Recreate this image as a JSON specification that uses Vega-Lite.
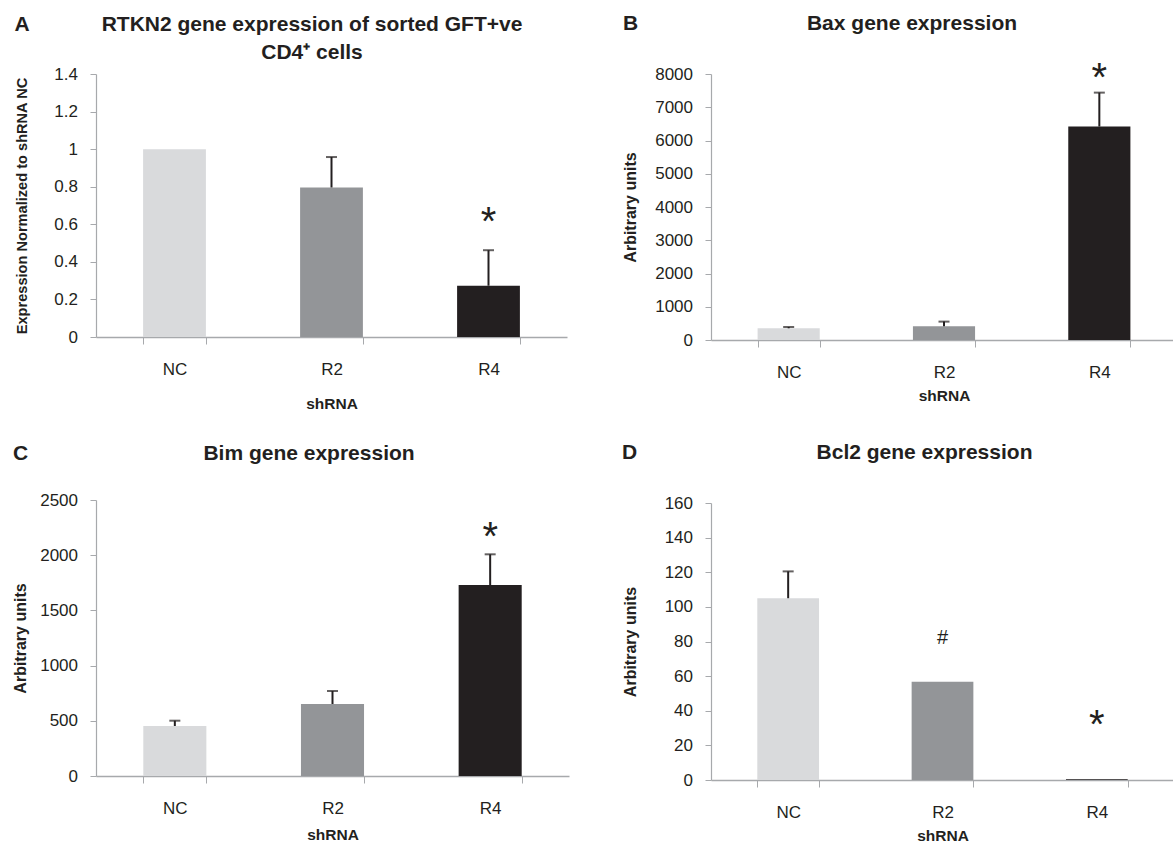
{
  "$schema": "https://vega.github.io/schema/vega-lite/v6.json",
  "background": "white",
  "padding": {"left": 12, "top": 12, "right": 0, "bottom": 0},
  "config": {
    "view": {"stroke": null},
    "font": "Liberation Sans",
    "axis": {"grid": false, "domainColor": "#a7a9ac", "tickColor": "#a7a9ac", "labelColor": "#231f20", "titleColor": "#231f20", "labelFontSize": 17, "titleFontWeight": "bold", "labelFont": "Liberation Sans", "titleFont": "Liberation Sans", "labelOverlap": false},
    "axisX": {"labelAngle": 0, "tickBand": "extent", "tickSize": 7, "labelPadding": 17, "titleFontSize": 15.5, "titlePadding": 10, "domainWidth": 1.3},
    "axisY": {"tickSize": 6, "labelPadding": 12.5, "titleFontSize": 16, "labelExpr": "'' + datum.value", "domainWidth": 1.2, "tickCount": 12},
    "title": {"fontSize": 21, "fontWeight": "bold", "color": "#231f20", "font": "Liberation Sans", "subtitleFontSize": 21, "subtitleFontWeight": "bold", "subtitleColor": "#231f20", "subtitleFont": "Liberation Sans"}
  },
  "datasets": {
    "A": [
      {"shRNA": "NC", "value": 1.0},
      {"shRNA": "R2", "value": 0.796, "err": 0.958},
      {"shRNA": "R4", "value": 0.273, "err": 0.462, "sig": "*", "sig_at": 0.65}
    ],
    "B": [
      {"shRNA": "NC", "value": 352, "err": 391},
      {"shRNA": "R2", "value": 412, "err": 553},
      {"shRNA": "R4", "value": 6420, "err": 7440, "sig": "*", "sig_at": 8100}
    ],
    "C": [
      {"shRNA": "NC", "value": 453, "err": 501},
      {"shRNA": "R2", "value": 652, "err": 770},
      {"shRNA": "R4", "value": 1730, "err": 2008, "sig": "*", "sig_at": 2228}
    ],
    "D": [
      {"shRNA": "NC", "value": 105, "err": 120.5},
      {"shRNA": "R2", "value": 56.7, "sig": "#", "sig_at": 82},
      {"shRNA": "R4", "value": 0.4, "sig": "*", "sig_at": 36}
    ]
  },
  "columns": 2,
  "align": "none",
  "spacing": {"row": 30, "column": 53},
  "concat": [
    {
      "title": {"text": "A", "anchor": "start", "frame": "bounds", "offset": -21},
      "vconcat": [
        {
          "width": 471, "height": 263,
          "title": {"text": "RTKN2 gene expression of sorted GFT+ve", "subtitle": "CD4⁺ cells", "subtitlePadding": 7, "anchor": "middle", "frame": "group", "dx": -19.5, "offset": 1.6},
          "data": {"name": "A"},
          "encoding": {"x": {"field": "shRNA", "type": "nominal", "sort": ["NC", "R2", "R4"], "scale": {"paddingInner": 0.6, "paddingOuter": 0.3}, "axis": {"title": "shRNA", "titlePadding": 19.5}}},
          "layer": [
            {"mark": {"type": "bar"}, "encoding": {"y": {"field": "value", "type": "quantitative", "scale": {"domain": [0, 1.4], "nice": false}, "axis": {"title": "Expression Normalized to shRNA NC", "titleFontSize": 14.6, "titlePadding": 24.3, "tickCount": 12, "labelOverlap": false, "values": [0, 0.2, 0.4, 0.6, 0.8, 1, 1.2, 1.4]}}, "color": {"field": "shRNA", "type": "nominal", "scale": {"domain": ["NC", "R2", "R4"], "range": ["#d9dadc", "#939598", "#231f20"]}, "legend": null}}},
            {"transform": [{"filter": "isValid(datum.err)"}], "mark": {"type": "rule", "strokeWidth": 2, "color": "#231f20"}, "encoding": {"y": {"field": "value", "type": "quantitative"}, "y2": {"field": "err"}}},
            {"transform": [{"filter": "isValid(datum.err)"}], "mark": {"type": "tick", "thickness": 2, "size": 11, "color": "#231f20"}, "encoding": {"y": {"field": "err", "type": "quantitative"}}},
            {"transform": [{"filter": "datum.sig === '*'"}], "mark": {"type": "text", "fontSize": 40, "baseline": "middle", "dy": 8, "color": "#231f20"}, "encoding": {"y": {"field": "sig_at", "type": "quantitative"}, "text": {"field": "sig"}}}
          ]
        }
      ]
    },
    {
      "title": {"text": "B", "anchor": "start", "frame": "bounds", "offset": -21},
      "vconcat": [
        {
          "width": 466, "height": 266,
          "title": {"text": "Bax gene expression", "anchor": "middle", "frame": "group", "dx": -32, "offset": 24.7},
          "data": {"name": "B"},
          "encoding": {"x": {"field": "shRNA", "type": "nominal", "sort": ["NC", "R2", "R4"], "scale": {"paddingInner": 0.6, "paddingOuter": 0.3}, "axis": {"title": "shRNA", "titlePadding": 8.5}}},
          "layer": [
            {"mark": {"type": "bar"}, "encoding": {"y": {"field": "value", "type": "quantitative", "scale": {"domain": [0, 8000], "nice": false}, "axis": {"title": "Arbitrary units", "titlePadding": 15.7, "tickCount": 12, "labelOverlap": false, "values": [0, 1000, 2000, 3000, 4000, 5000, 6000, 7000, 8000]}}, "color": {"field": "shRNA", "type": "nominal", "scale": {"domain": ["NC", "R2", "R4"], "range": ["#d9dadc", "#939598", "#231f20"]}, "legend": null}}},
            {"transform": [{"filter": "isValid(datum.err)"}], "mark": {"type": "rule", "strokeWidth": 2, "color": "#231f20"}, "encoding": {"y": {"field": "value", "type": "quantitative"}, "y2": {"field": "err"}}},
            {"transform": [{"filter": "isValid(datum.err)"}], "mark": {"type": "tick", "thickness": 2, "size": 11, "color": "#231f20"}, "encoding": {"y": {"field": "err", "type": "quantitative"}}},
            {"transform": [{"filter": "datum.sig === '*'"}], "mark": {"type": "text", "fontSize": 40, "baseline": "middle", "dy": 8, "color": "#231f20"}, "encoding": {"y": {"field": "sig_at", "type": "quantitative"}, "text": {"field": "sig"}}}
          ]
        }
      ]
    },
    {
      "title": {"text": "C", "anchor": "start", "frame": "bounds", "offset": -21},
      "vconcat": [
        {
          "width": 473, "height": 276,
          "title": {"text": "Bim gene expression", "anchor": "middle", "frame": "group", "dx": -23.5, "offset": 27.5},
          "data": {"name": "C"},
          "encoding": {"x": {"field": "shRNA", "type": "nominal", "sort": ["NC", "R2", "R4"], "scale": {"paddingInner": 0.6, "paddingOuter": 0.3}, "axis": {"title": "shRNA", "titlePadding": 11}}},
          "layer": [
            {"mark": {"type": "bar"}, "encoding": {"y": {"field": "value", "type": "quantitative", "scale": {"domain": [0, 2500], "nice": false}, "axis": {"title": "Arbitrary units", "titlePadding": 10.7, "tickCount": 12, "labelOverlap": false, "values": [0, 500, 1000, 1500, 2000, 2500]}}, "color": {"field": "shRNA", "type": "nominal", "scale": {"domain": ["NC", "R2", "R4"], "range": ["#d9dadc", "#939598", "#231f20"]}, "legend": null}}},
            {"transform": [{"filter": "isValid(datum.err)"}], "mark": {"type": "rule", "strokeWidth": 2, "color": "#231f20"}, "encoding": {"y": {"field": "value", "type": "quantitative"}, "y2": {"field": "err"}}},
            {"transform": [{"filter": "isValid(datum.err)"}], "mark": {"type": "tick", "thickness": 2, "size": 11, "color": "#231f20"}, "encoding": {"y": {"field": "err", "type": "quantitative"}}},
            {"transform": [{"filter": "datum.sig === '*'"}], "mark": {"type": "text", "fontSize": 40, "baseline": "middle", "dy": 8, "color": "#231f20"}, "encoding": {"y": {"field": "sig_at", "type": "quantitative"}, "text": {"field": "sig"}}}
          ]
        }
      ]
    },
    {
      "title": {"text": "D", "anchor": "start", "frame": "bounds", "offset": -21},
      "vconcat": [
        {
          "width": 463, "height": 277,
          "title": {"text": "Bcl2 gene expression", "anchor": "middle", "frame": "group", "dx": -18, "offset": 30.8},
          "data": {"name": "D"},
          "encoding": {"x": {"field": "shRNA", "type": "nominal", "sort": ["NC", "R2", "R4"], "scale": {"paddingInner": 0.6, "paddingOuter": 0.3}, "axis": {"title": "shRNA", "titlePadding": 8.5}}},
          "layer": [
            {"mark": {"type": "bar"}, "encoding": {"y": {"field": "value", "type": "quantitative", "scale": {"domain": [0, 160], "nice": false}, "axis": {"title": "Arbitrary units", "titlePadding": 26.1, "tickCount": 12, "labelOverlap": false, "values": [0, 20, 40, 60, 80, 100, 120, 140, 160]}}, "color": {"field": "shRNA", "type": "nominal", "scale": {"domain": ["NC", "R2", "R4"], "range": ["#d9dadc", "#939598", "#231f20"]}, "legend": null}}},
            {"transform": [{"filter": "isValid(datum.err)"}], "mark": {"type": "rule", "strokeWidth": 2, "color": "#231f20"}, "encoding": {"y": {"field": "value", "type": "quantitative"}, "y2": {"field": "err"}}},
            {"transform": [{"filter": "isValid(datum.err)"}], "mark": {"type": "tick", "thickness": 2, "size": 11, "color": "#231f20"}, "encoding": {"y": {"field": "err", "type": "quantitative"}}},
            {"transform": [{"filter": "datum.sig === '*'"}], "mark": {"type": "text", "fontSize": 40, "baseline": "middle", "dy": 8, "color": "#231f20"}, "encoding": {"y": {"field": "sig_at", "type": "quantitative"}, "text": {"field": "sig"}}},
            {"transform": [{"filter": "datum.sig === '#'"}], "mark": {"type": "text", "fontSize": 20, "baseline": "middle", "color": "#231f20"}, "encoding": {"y": {"field": "sig_at", "type": "quantitative"}, "text": {"field": "sig"}}}
          ]
        }
      ]
    }
  ]
}
